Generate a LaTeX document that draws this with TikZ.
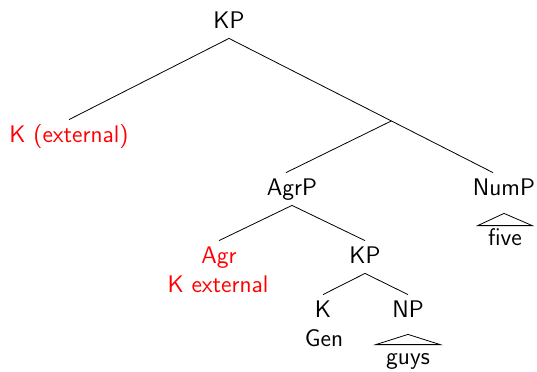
\documentclass[tikz,border=0pt]{standalone}
\usetikzlibrary{positioning, calc}

\begin{document}
\begin{tikzpicture}[
        x=0.5pt, y=-0.5pt,
        lab/.style={
            anchor=base, font=\fontsize{12}{14.5}\selectfont\sffamily,
            text height=8pt, text depth=2pt, inner sep=3pt
        },
        leaf/.style={lab, inner ysep=1.5pt, inner xsep=5pt},
        ext/.style={lab, text=red},
    ]
        \useasboundingbox (0,0) rectangle (537,371);

        % Tree nodes
        \node [lab] (kp) at (229,28) {KP};
        \node [ext] (kext) at (69,142) {K (external)};
        \node [lab] (agrp) at (292,195) {AgrP};
        \node [lab] (nump) at (504,195) {NumP};
        \node [leaf] (five) at (505,245) {five};
        \node [ext] (agr) at (219,263) {Agr};
        \node [ext] (agrk) at (218,292) {K external};
        \node [lab] (kpb) at (365,263) {KP};
        \node [lab] (k) at (323,317) {K};
        \node [lab] (gen) at (324,346) {Gen};
        \node [lab] (np) at (408,317) {NP};
        \node [leaf] (guys) at (408,364) {guys};

        % Branches
        \draw (kp.south) -- (kext.north);
        \draw (kp.south) -- ([xshift=-5.5pt]nump.north);
        \path (kp.south) -- ([xshift=-5.5pt]nump.north) coordinate[pos=0.615] (mid);
        \draw (mid) -- ([xshift=-3pt]agrp.north);
        \draw (agrp.south) -- (agr.north);
        \draw (agrp.south) -- (kpb.north);
        \draw (kpb.south) -- (k.north);
        \draw (kpb.south) -- (np.north);

        % Roofs
        \draw ([yshift=-4pt]nump.south) -- (five.north west) -- (five.north east) -- cycle;
        \draw ([yshift=-3.5pt]np.south) -- (guys.north west) -- (guys.north east) -- cycle;
\end{tikzpicture}
\end{document}
